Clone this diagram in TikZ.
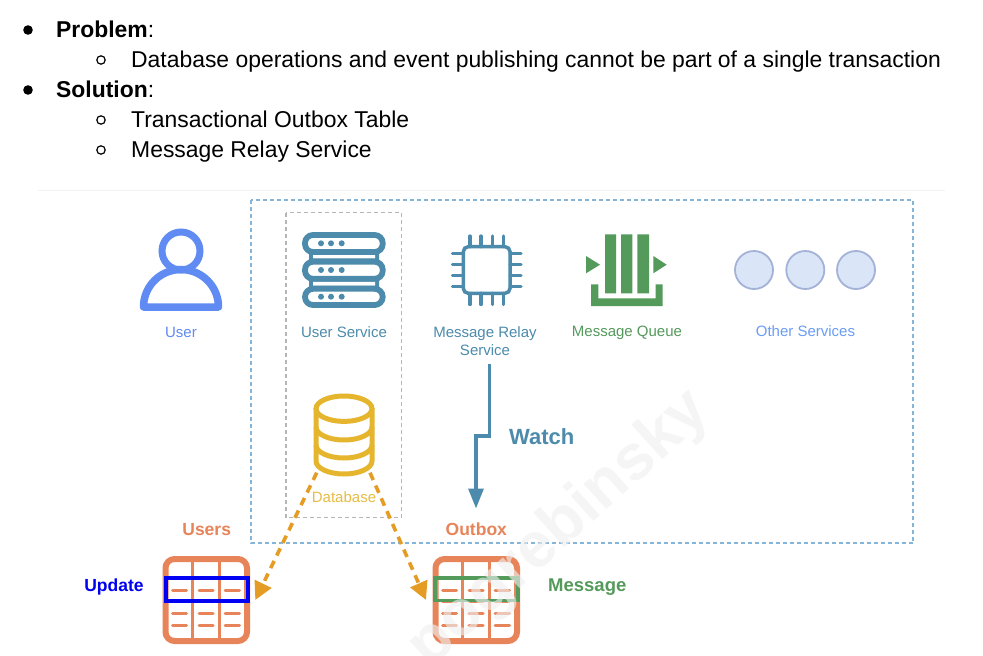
\documentclass[tikz,border=0pt]{standalone}
\usepackage{fontspec}
\setmainfont{Liberation Sans}
\usetikzlibrary{arrows.meta}
\definecolor{cUser}{HTML}{5F8BF2}
\definecolor{cTeal}{HTML}{4C8BAB}
\definecolor{cGreen}{HTML}{549A5B}
\definecolor{cDb}{HTML}{E5B52E}
\definecolor{cOrange}{HTML}{E8845A}
\definecolor{cArrow}{HTML}{E59C25}
\definecolor{cOther}{HTML}{6A9DF5}
\definecolor{cBoxBlue}{HTML}{86B5DA}
\definecolor{cBoxGray}{HTML}{B5B5B5}
\definecolor{cCircF}{HTML}{DAE5F7}
\definecolor{cCircD}{HTML}{A3B2D6}
\tikzset{
  x=1pt,y=-1pt,
  txt/.style={font=\fontsize{22.9}{26}\selectfont,anchor=base west,inner sep=0pt,text=black},
  lbl/.style={font=\fontsize{15}{18}\selectfont,inner sep=0pt},
  tag/.style={font=\fontsize{17.5}{20}\bfseries\selectfont,inner sep=0pt},
  dot1/.style={fill=black},
  dot2/.style={draw=black,line width=1.2pt},
  watcharrow/.style={draw=cTeal,line width=3.2pt,-{Triangle[length=20pt,width=15pt]}},
  dbarrow/.style={draw=cArrow,line width=3.6pt,dash pattern=on 8pt off 6pt,-{Triangle[length=18pt,width=18pt]}},
}
\newcommand{\tablegrid}[1]{%
  \begin{scope}[shift={(#1,0)}]
    \draw[cOrange,line width=6pt,rounded corners=9pt] (165.5,559) rectangle (247,641);
    \draw[cOrange,line width=3.5pt] (165.5,577.5) -- (247,577.5)
      (192.3,559) -- (192.3,641) (219.3,559) -- (219.3,641);
    \foreach \yy in {590,601.7,613.3,625.7}
      \foreach \xa/\xb in {172.5/186.5,199.2/213.2,225.2/239.5}
        \draw[cOrange,line width=3pt,line cap=round] (\xa,\yy) -- (\xb,\yy);
  \end{scope}}
\begin{document}
\begin{tikzpicture}
\useasboundingbox (0,0) rectangle (983,656);
\clip (0,0) rectangle (983,656);
\fill[white] (0,0) rectangle (983,656);

% bullet text
\fill[dot1] (28,30) circle (4.8);
\fill[dot1] (28,90) circle (4.8);
\foreach \yy in {60,120,150} \draw[dot2] (101,\yy) circle (4.2);
\node[txt] (t1) at (56,37.5) {\textbf{Problem}:};
\node[txt] (t2) at (131,67.5) {Database operations and event publishing cannot be part of a single transaction};
\node[txt] (t3) at (56,97.5) {\textbf{Solution}:};
\node[txt] (t4) at (131,127.5) {Transactional Outbox Table};
\node[txt] (t5) at (131,157.5) {Message Relay Service};

\draw[black!5,line width=1pt] (38,190) -- (945,190);

% group boxes
\draw[cBoxBlue,line width=1.8pt,dash pattern=on 4pt off 3pt] (251,200) rectangle (913.3,543.3);
\draw[cBoxGray,line width=1.5pt,dash pattern=on 4pt off 3pt] (286,212.7) rectangle (401.7,517.7);

% user icon
\draw[cUser,line width=7pt] (181,251) circle (19);
\draw[cUser,line width=7.5pt,line join=round] (143.5,307) arc (180:360:37.5) -- cycle;
\node[lbl,text=cUser] (user) at (181,332.5) {User};

% server icon
\fill[cTeal] (309,252) rectangle (379,262) (309,279) rectangle (379,289);
\fill[white] (313,255) rectangle (375,258.3) (313,281.7) rectangle (375,285.7);
\foreach \ya/\yb in {235/252,261.7/278.8,288.8/305}{
  \draw[cTeal,line width=5.8pt,fill=white,rounded corners=8pt] (305,\ya) rectangle (382.7,\yb);
}
\foreach \yy in {243.3,270,296.7}
  \foreach \xx in {321,331,341.7}
    \fill[cTeal] (\xx,\yy) circle (3);
\node[lbl,text=cTeal] (usvc) at (344,332.5) {User Service};

% chip icon
\draw[cTeal,line width=3.5pt,rounded corners=5pt] (463.3,246.7) rectangle (510,293.3);
\foreach \xx in {470,481,492.3,503.3}
  \draw[cTeal,line width=3.2pt,line cap=round] (\xx,236) -- (\xx,246.7) (\xx,293.3) -- (\xx,304.5);
\foreach \yy in {253.3,264.3,275.7,286.7}
  \draw[cTeal,line width=3.2pt,line cap=round] (452.5,\yy) -- (463.3,\yy) (510,\yy) -- (521,\yy);
\node[lbl,text=cTeal,align=center] (relay) at (485,341) {Message Relay\\[0pt]Service};

% queue icon
\fill[cGreen] (605,234.3) rectangle (616,293.3) (621,234.3) rectangle (632.3,293.3) (637.3,234.3) rectangle (649,293.3);
\fill[cGreen] (586,256) -- (600,264.7) -- (586,273.3) -- cycle;
\fill[cGreen] (653.3,256) -- (666.7,264.7) -- (653.3,273.3) -- cycle;
\fill[cGreen] (591,284.3) -- (598.3,284.3) -- (598.3,298.3) -- (655.7,298.3) -- (655.7,284.3) -- (662.7,284.3) -- (662.7,306) -- (591,306) -- cycle;
\node[lbl,text=cGreen] (queue) at (627,332.5) {Message Queue};

% other services
\foreach \xx in {754,805.3,856}
  \draw[draw=cCircD,fill=cCircF,line width=1.8pt] (\xx,270) circle (19);
\node[lbl,text=cOther] (other) at (805.5,331) {Other Services};

% database icon
\draw[cDb,line width=5pt] (344,408.7) ellipse (28 and 12.7);
\draw[cDb,line width=5pt,line cap=round] (316,408.7) -- (316,461) arc (180:0:28 and 13) -- (372,408.7);
\draw[cDb,line width=5pt] (316,427) arc (180:0:28 and 13);
\draw[cDb,line width=5pt] (316,445) arc (180:0:28 and 13);
\node[lbl,text=cDb!90!white] (db) at (344,497.5) {Database};

% tables
\tablegrid{0}
\tablegrid{270}
\draw[blue!95!black,line width=4pt] (166,578) rectangle (247.7,600.7);
\draw[cGreen,line width=3.5pt] (435,578) rectangle (518,600.7);

% table labels
\node[tag,text=cOrange] (tusers) at (206.7,529.5) {Users};
\node[tag,text=blue!95!black] (update) at (114,587) {Update};
\node[tag,text=cOrange] (toutbox) at (476.3,529.5) {Outbox};
\node[tag,text=cGreen,font=\fontsize{18.5}{20}\bfseries\selectfont] (message) at (587.3,587) {Message};
\node[font=\fontsize{22}{25}\bfseries\selectfont,text=cTeal,inner sep=0pt] (watch) at (541.7,436.5) {Watch};

% connectors
\coordinate (wstart) at (489.3,364);
\coordinate (wa) at (489.3,436);
\coordinate (wb) at (476,436);
\coordinate (wend) at (476,508.5);
\draw[watcharrow] (wstart) -- (wa) -- (wb) -- (wend);
\coordinate (dbl) at (316.7,472.7);
\coordinate (dbr) at (370,472.7);
\coordinate (usersend) at (255.3,600);
\coordinate (outboxend) at (426,600);
\draw[dbarrow] (dbl) -- (usersend);
\draw[dbarrow] (dbr) -- (outboxend);

% watermark
\node[font=\fontsize{64}{70}\bfseries\selectfont,text=gray!12!white,opacity=.62,rotate=42,inner sep=0pt] (wm) at (560,530) {pogrebinsky};
\end{tikzpicture}
\end{document}
